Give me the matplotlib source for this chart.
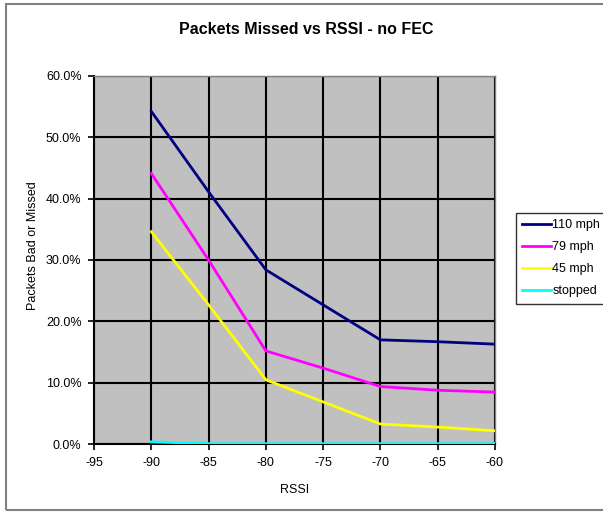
import matplotlib
matplotlib.use("Agg")
import matplotlib.pyplot as plt
from matplotlib.patches import Rectangle
from matplotlib.ticker import FuncFormatter, MultipleLocator

plt.rcParams['font.family'] = ['Liberation Sans', 'DejaVu Sans']

rssi = [-90, -85, -80, -75, -70, -65, -60]
mph110 = [54.2, 41.1, 28.4, 22.7, 17.0, 16.7, 16.3]
mph79 = [44.1, 30.0, 15.2, 12.4, 9.4, 8.8, 8.5]
mph45 = [34.6, 22.7, 10.5, 6.9, 3.3, 2.8, 2.2]
stopped = [0.4, 0.1, 0.1, 0.1, 0.1, 0.1, 0.1]

series = [("110 mph", mph110, "#000080"),
          ("79 mph", mph79, "#FF00FF"),
          ("45 mph", mph45, "#FFFF00"),
          ("stopped", stopped, "#00FFFF")]

fig = plt.figure(figsize=(6.03, 5.12), dpi=100)
fig.patch.set_facecolor("white")
fig.patches.append(Rectangle((6/603, 2/512), 1.0, 506/512, transform=fig.transFigure,
                             fill=False, edgecolor="#808080", linewidth=1.5))

ax = fig.add_axes([94/603, (512-444.3)/512, (495-94)/603, (444.3-75.7)/512])
ax.set_facecolor("#C0C0C0")
for name, vals, col in series:
    ax.plot(rssi, vals, color=col, linewidth=2, label=name, zorder=3)

ax.set_xlim(-95, -60)
ax.set_ylim(0, 60)
ax.xaxis.set_major_locator(MultipleLocator(5))
ax.yaxis.set_major_locator(MultipleLocator(10))
ax.yaxis.set_major_formatter(FuncFormatter(lambda v, p: f"{v:.1f}%"))
ax.xaxis.set_major_formatter(FuncFormatter(lambda v, p: f"{int(round(v))}"))
ax.grid(True, color="black", linewidth=1.5, zorder=1)
ax.set_axisbelow(True)
for s in ["top", "right"]:
    ax.spines[s].set_color("#808080")
    ax.spines[s].set_linewidth(1)
for s in ["left", "bottom"]:
    ax.spines[s].set_color("black")
    ax.spines[s].set_linewidth(1.5)
ax.tick_params(direction="out", length=4, width=1.2, labelsize=9, pad=5)
ax.set_xlabel("RSSI", fontsize=9, labelpad=11)
ax.set_ylabel("Packets Bad or Missed", fontsize=9, labelpad=5)
ax.yaxis.set_label_coords(-0.138, 0.538)
fig.text(306/603, 1 - 29/512, "Packets Missed vs RSSI - no FEC",
         ha="center", va="center", fontsize=11.5, fontweight="bold")

leg = fig.legend(loc="upper left", bbox_to_anchor=(516/603, 1 - 213/512),
                 fontsize=9, frameon=True, fancybox=False, edgecolor="black",
                 handlelength=2.3, handletextpad=0.1, borderpad=0.5,
                 labelspacing=0.8, borderaxespad=0)
leg.get_frame().set_linewidth(1)

fig.savefig("out.png", dpi=100)
